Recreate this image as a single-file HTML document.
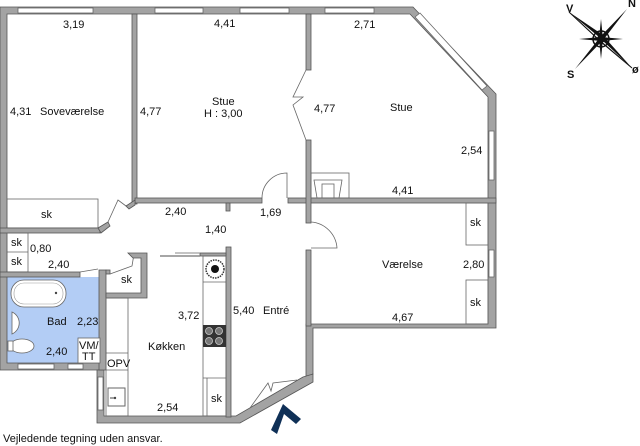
<!DOCTYPE html>
<html><head><meta charset="utf-8"><style>
html,body{margin:0;padding:0;background:#fff;width:640px;height:446px;overflow:hidden}
svg{display:block}
text{font-family:"Liberation Sans",sans-serif;font-size:11px;fill:#111}
.w{fill:#a3a3a3;stroke:#555;stroke-width:0.8}
.l{fill:none;stroke:#666;stroke-width:0.8}
.win{fill:#fff;stroke:#666;stroke-width:0.8}
</style></head><body>
<svg width="640" height="446" viewBox="0 0 640 446">
<rect x="7" y="277" width="94" height="86" fill="#b3cdf5"/>
<polygon class="w" points="0,7 413,7 496,94 496,328 313,328 313,374 306,377 306,370 306,324 488,324 488,97 410,14 7,14 7,363 101,363 101,370 7,370 0,370"/>
<polygon class="w" points="97,370 104,370 104,416 236,416 303,377 313,374 313,382 240,423 97,423"/>
<rect class="win" x="18" y="8" width="75" height="5"/>
<rect class="win" x="155" y="8" width="48" height="5"/>
<rect class="win" x="240" y="8" width="49" height="5"/>
<rect class="win" x="325" y="8" width="49" height="5"/>
<polygon class="win" points="415,17 420,13 487,86 482,90"/>
<rect class="win" x="489" y="131" width="5" height="49"/>
<rect class="win" x="489" y="250" width="5" height="27"/>
<rect class="win" x="18" y="364" width="36" height="5"/>
<rect class="win" x="68" y="364" width="15" height="5"/>
<rect class="win" x="98" y="377" width="5" height="33"/>
<rect class="w" x="132" y="14" width="5" height="190"/>
<rect class="w" x="135" y="198" width="127" height="5"/>
<rect class="w" x="226" y="203" width="4" height="8"/>
<rect class="w" x="288" y="198" width="208" height="5"/>
<rect class="w" x="306" y="14" width="5" height="56"/>
<rect class="w" x="306" y="140" width="5" height="83"/>
<rect class="w" x="306" y="250" width="5" height="76"/>
<polyline class="l" points="306,70 293,97 303,97 293,105 306,140"/>
<path class="l" d="M262,198 A25,25 0 0 1 287,173 L287,198"/>
<path class="l" d="M311,222 A28,28 0 0 1 337,248 L311,248"/>
<rect class="l" x="7" y="199" width="91" height="29"/>
<rect class="w" x="0" y="228" width="100" height="5"/>
<polygon class="w" points="98,228 108,222 110,226 101,233"/>
<polyline class="l" points="108,222 118,200 126,206"/>
<polygon class="w" points="126,206 135,200 135,205 129,209"/>
<rect class="l" x="7" y="233" width="21" height="39"/>
<line class="l" x1="7" y1="252" x2="28" y2="252"/>
<rect class="w" x="0" y="272" width="80" height="5"/>
<polyline class="l" points="80,272 98,269"/>
<rect class="w" x="99" y="270" width="7" height="100"/>
<rect class="w" x="106" y="270" width="4" height="4"/>
<polyline class="l" points="110,274 132,266 134,254"/>
<polygon class="w" points="128,253 147,253 147,298 106,298 106,293 141,293 141,258 133,258"/>
<rect x="11" y="280" width="55" height="27" rx="13" fill="#fff" stroke="#666" stroke-width="0.8"/>
<rect x="14" y="283" width="49" height="21" rx="10" fill="none" stroke="#999" stroke-width="0.6"/>
<circle cx="56" cy="293" r="1.2" fill="#444"/>
<path d="M12,312 A12,12 0 0 1 12,334 Z" fill="#fff" stroke="#666" stroke-width="0.8"/>
<ellipse cx="22" cy="346" rx="12" ry="7" fill="#fff" stroke="#666" stroke-width="0.8"/>
<rect x="8" y="341" width="5" height="10" fill="#fff" stroke="#666" stroke-width="0.8"/>
<rect x="78" y="338" width="22" height="25" fill="#fff" stroke="#666" stroke-width="0.8"/>
<rect class="l" x="106" y="298" width="22" height="118"/>
<line class="l" x1="106" y1="353" x2="128" y2="353"/>
<line class="l" x1="106" y1="370" x2="128" y2="370"/>
<rect x="108" y="388" width="17" height="18" fill="#fff" stroke="#666"/>
<circle cx="115" cy="398" r="1.2" fill="#444"/>
<line x1="110" y1="398" x2="115" y2="398" stroke="#444"/>
<rect class="w" x="226" y="247" width="5" height="170"/>
<rect class="w" x="200" y="253" width="26" height="3"/>
<line x1="160" y1="256" x2="200" y2="256" stroke="#888" stroke-width="1.5"/>
<line x1="175" y1="253" x2="200" y2="253" stroke="#888" stroke-width="1"/>
<rect class="l" x="203" y="256" width="23" height="160"/>
<line class="l" x1="203" y1="282" x2="226" y2="282"/>
<circle cx="215" cy="269" r="9" fill="#fff" stroke="#333" stroke-width="1.5" stroke-dasharray="1.5 1"/>
<circle cx="215" cy="269" r="4" fill="#111"/>
<rect x="203" y="325" width="23" height="22" fill="#333"/>
<circle cx="209" cy="331" r="3.5" fill="#777" stroke="#ccc" stroke-width="0.8"/>
<circle cx="219" cy="331" r="3.5" fill="#777" stroke="#ccc" stroke-width="0.8"/>
<circle cx="209" cy="341" r="3.5" fill="#777" stroke="#ccc" stroke-width="0.8"/>
<circle cx="219" cy="341" r="3.5" fill="#777" stroke="#ccc" stroke-width="0.8"/>
<line class="l" x1="203" y1="378" x2="226" y2="378"/>
<line class="l" x1="207" y1="378" x2="207" y2="416"/>
<polyline class="l" points="250,408 268,383 271,391 273,383 297,380"/>
<rect class="l" x="311" y="173" width="38" height="25"/>
<polygon class="l" points="314,180 342,180 339,198 317,198"/>
<rect class="l" x="322" y="184" width="12" height="14"/>
<rect class="l" x="466" y="203" width="22" height="42"/>
<rect class="l" x="466" y="280" width="22" height="44"/>
<polygon fill="#0f3057" points="271,430 283,404 301,419 296,424 284,414 277,434"/>
<g transform="translate(601,39)">
<polygon points="0,-3 26,-30 3,0 -26,30" fill="#111"/>
<polygon points="-3,0 -32,-27 0,3 31,29" fill="#fff" stroke="#111" stroke-width="1"/>
<polygon points="-2,-2 -32,-27 -1,-6" fill="#111"/>
<polygon points="2,2 31,29 6,1" fill="#111"/>
<polygon points="-2,0 0,-20 2,0 0,20" fill="#111"/>
<polygon points="0,-2 -22,0 0,2 22,0" fill="#111"/>
<circle r="8" fill="none" stroke="#111" stroke-width="1.5"/>
<circle r="4" fill="#111"/>
</g>
<text x="566" y="12" font-size="9" font-weight="bold">V</text>
<text x="628" y="7" font-size="9" font-weight="bold">N</text>
<text x="567" y="78" font-size="9" font-weight="bold">S</text>
<text x="632" y="73" font-size="9" font-weight="bold">ø</text>
<text x="63" y="28">3,19</text>
<text x="214" y="27">4,41</text>
<text x="354" y="28">2,71</text>
<text x="10" y="115">4,31</text>
<text x="40" y="115">Soveværelse</text>
<text x="140" y="115">4,77</text>
<text x="212" y="105">Stue</text>
<text x="204" y="117">H : 3,00</text>
<text x="314" y="112">4,77</text>
<text x="390" y="111">Stue</text>
<text x="461" y="154">2,54</text>
<text x="392" y="194">4,41</text>
<text x="41" y="218">sk</text>
<text x="165" y="215">2,40</text>
<text x="260" y="216">1,69</text>
<text x="205" y="233">1,40</text>
<text x="470" y="226">sk</text>
<text x="382" y="268">Værelse</text>
<text x="463" y="268">2,80</text>
<text x="470" y="306">sk</text>
<text x="392" y="321">4,67</text>
<text x="11" y="246">sk</text>
<text x="30" y="252">0,80</text>
<text x="11" y="265">sk</text>
<text x="48" y="268">2,40</text>
<text x="121" y="283">sk</text>
<text x="47" y="325">Bad</text>
<text x="77" y="325">2,23</text>
<text x="46" y="355">2,40</text>
<text x="79" y="349" font-size="10.5">VM/</text>
<text x="82" y="360" font-size="10.5">TT</text>
<text x="178" y="319">3,72</text>
<text x="233" y="314">5,40</text>
<text x="263" y="314">Entré</text>
<text x="148" y="350">Køkken</text>
<text x="107" y="367">OPV</text>
<text x="211" y="402">sk</text>
<text x="157" y="411">2,54</text>
<text x="3" y="442" font-size="14">Vejledende tegning uden ansvar.</text>
</svg>
</body></html>
